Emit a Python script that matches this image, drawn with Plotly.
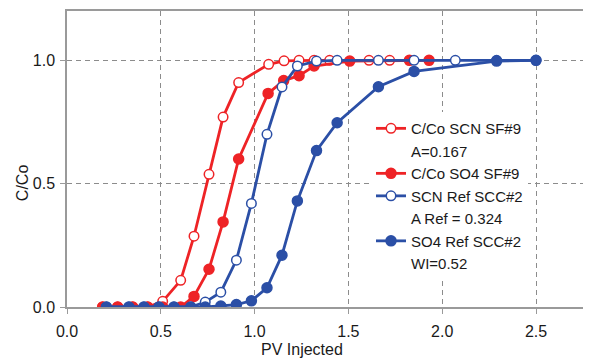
import plotly.graph_objects as go

# ---- data ----
red_x = [0.19, 0.27, 0.35, 0.43, 0.51, 0.606, 0.677, 0.757, 0.832, 0.915,
         1.075, 1.157, 1.237, 1.317, 1.40, 1.61, 1.72]
scn_sf9 = [0, 0, 0, 0, 0.023, 0.108, 0.287, 0.538, 0.77, 0.91,
           0.984, 0.998, 1.0, 1.0, 1.0, 1.0, 1.0]

red_fx = [0.19, 0.27, 0.35, 0.43, 0.51, 0.606, 0.677, 0.757, 0.832, 0.915,
          1.072, 1.155, 1.237, 1.317, 1.507, 1.825, 1.93]
so4_sf9 = [0, 0, 0, 0, 0, 0.0, 0.043, 0.153, 0.345, 0.60,
           0.866, 0.918, 0.938, 0.977, 0.997, 1.0, 1.0]

blue_ox = [0.21, 0.33, 0.41, 0.49, 0.57, 0.66, 0.737, 0.82, 0.903, 0.983,
           1.066, 1.146, 1.228, 1.33, 1.44, 1.66, 1.85, 2.07, 2.29, 2.50]
scn_ref = [0, 0, 0, 0, 0, 0, 0.02, 0.06, 0.19, 0.42,
           0.70, 0.892, 0.977, 0.997, 1.0, 1.0, 1.0, 1.0, 1.0, 1.0]

blue_fx = [0.21, 0.33, 0.41, 0.49, 0.57, 0.66, 0.737, 0.82, 0.903, 0.983,
           1.066, 1.146, 1.228, 1.33, 1.44, 1.66, 1.85, 2.29, 2.50]
so4_ref = [0, 0, 0, 0, 0, 0, 0, 0.004, 0.01, 0.025,
           0.078, 0.21, 0.43, 0.634, 0.747, 0.893, 0.955, 0.997, 1.0]

x_ticks = [0.0, 0.5, 1.0, 1.5, 2.0, 2.5]
x_tick_labels = ["0.0", "0.5", "1.0", "1.5", "2.0", "2.5"]
y_ticks = [0.0, 0.5, 1.0]
y_tick_labels = ["0.0", "0.5", "1.0"]

RED = "#ee2326"
BLUE = "#2b4fa6"
FONT = "Liberation Sans, Arial, Helvetica, sans-serif"

OFF = 8  # page body margin
W, H = 591, 361
L, T = 67 - OFF, 11 - OFF
BOT = 306.7 - OFF
B = H - BOT
PW, PH = W - L, BOT - T

fig = go.Figure()

def add(x, y, name, color, filled, rank):
    fig.add_trace(go.Scatter(
        x=x, y=y, name=name, mode="lines+markers", legendrank=rank,
        line=dict(color=color, width=2.8),
        marker=dict(size=10 if filled else 9.5, symbol="circle",
                    color=color if filled else "white",
                    line=dict(color=color, width=1.5)),
    ))

def note(name, rank):
    fig.add_trace(go.Scatter(
        x=[None], y=[None], name=name, mode="markers", legendrank=rank,
        marker=dict(color="rgba(0,0,0,0)", size=1),
    ))

add(red_x, scn_sf9, "C/Co SCN SF#9", RED, False, 1)
note("A=0.167", 2)
add(red_fx, so4_sf9, "C/Co SO4 SF#9", RED, True, 3)
add(blue_ox, scn_ref, "SCN Ref SCC#2", BLUE, False, 4)
note("A Ref = 0.324", 5)
add(blue_fx, so4_ref, "SO4 Ref SCC#2", BLUE, True, 6)
note("WI=0.52", 7)

grid = dict(showgrid=True, gridcolor="#8c8c8c", gridwidth=1, griddash="5px,4px")

fig.update_layout(
    width=W, height=H,
    margin=dict(l=L, r=0, t=T, b=B, autoexpand=False),
    paper_bgcolor="white", plot_bgcolor="white",
    font=dict(family=FONT, size=16, color="#1a1a1a"),
    showlegend=True,
    legend=dict(x=(371 - OFF - L) / PW, y=(BOT - (112 - OFF)) / PH,
                xanchor="left", yanchor="top",
                bgcolor="white", borderwidth=0,
                font=dict(family=FONT, size=15, color="#1a1a1a"),
                traceorder="normal"),
    xaxis=dict(range=[0, PW / 187.6], tickvals=x_ticks, ticktext=x_tick_labels,
               showline=True, linecolor="#9a9a9a", linewidth=1.5, mirror=True,
               ticks="outside", ticklen=5, tickcolor="#9a9a9a",
               ticklabelstandoff=4,
               zeroline=False, automargin=False, **grid),
    yaxis=dict(range=[0, 1.2], tickvals=y_ticks, ticktext=y_tick_labels,
               showline=True, linecolor="#9a9a9a", linewidth=1.5,
               ticks="outside", ticklen=5, tickcolor="#9a9a9a",
               ticklabelstandoff=2,
               zeroline=False, automargin=False, **grid),
    annotations=[
        dict(text="PV Injected", xref="paper", yref="paper",
             x=(302 - OFF - L) / PW, y=-((349 - OFF) - BOT) / PH,
             xanchor="center", yanchor="middle", showarrow=False,
             font=dict(size=16)),
        dict(text="C/Co", xref="paper", yref="paper", textangle=-90,
             x=-(L - (22 - OFF)) / PW, y=(BOT - (183 - OFF)) / PH,
             xanchor="center", yanchor="middle", showarrow=False,
             font=dict(size=16)),
    ],
)

fig.write_html("out.html")
